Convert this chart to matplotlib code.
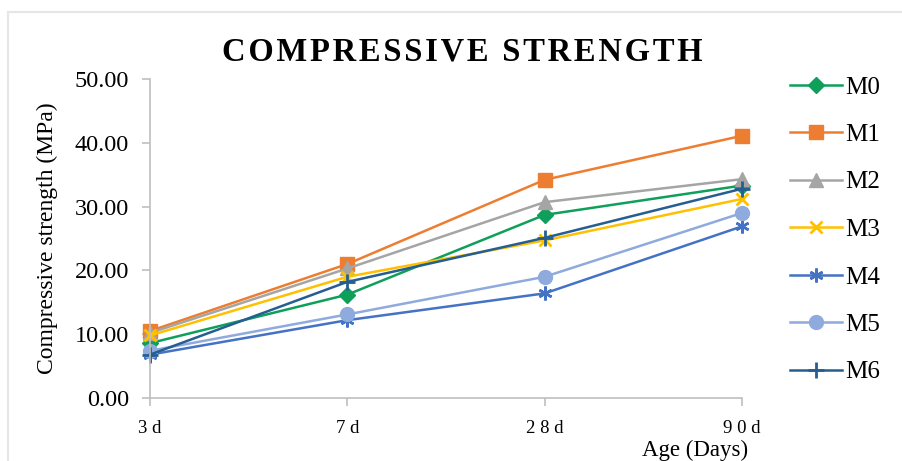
import matplotlib.pyplot as plt
from matplotlib.patches import Rectangle

plt.rcParams['font.family'] = ['Liberation Serif', 'DejaVu Serif']

ages = ["3 d", "7 d", "2 8 d", "9 0 d"]
series_names = ["M0", "M1", "M2", "M3", "M4", "M5", "M6"]

m0 = [8.6, 16.2, 28.7, 33.3]
m1 = [10.5, 21.0, 34.2, 41.1]
m2 = [10.2, 20.3, 30.7, 34.3]
m3 = [9.8, 19.0, 24.7, 31.2]
m4 = [6.8, 12.2, 16.4, 26.9]
m5 = [7.4, 13.1, 19.0, 29.0]
m6 = [6.8, 18.2, 25.1, 32.8]

yticks = [0, 10, 20, 30, 40, 50]

styles = {
    "M0": dict(color="#0E9F5B", marker="D", ms=8),
    "M1": dict(color="#ED7D31", marker="s", ms=10),
    "M2": dict(color="#A5A5A5", marker="^", ms=10),
    "M3": dict(color="#FFC000", marker="x", ms=9, mew=2),
    "M4": dict(color="#4472C4", marker=(6, 2, 0), ms=10, mew=1.8),
    "M5": dict(color="#8FAADC", marker="o", ms=10),
    "M6": dict(color="#255E91", marker="+", ms=11, mew=2),
}

fig = plt.figure(figsize=(9.03, 4.61), dpi=100)
ax = fig.add_axes([150 / 903, 1 - 398 / 461, 592 / 903, 319 / 461])

x = list(range(len(ages)))
for name, vals in zip(series_names, [m0, m1, m2, m3, m4, m5, m6]):
    st = styles[name]
    ax.plot(x, vals, color=st["color"], lw=1.8, marker=st["marker"],
            markersize=st["ms"], markeredgewidth=st.get("mew", 1),
            markerfacecolor=st["color"], markeredgecolor=st["color"],
            label=name, clip_on=False)

ax.set_xlim(0, 3)
ax.set_ylim(0, 50)
ax.set_yticks(yticks)
ax.set_yticklabels([f"{v:.2f}" for v in yticks], fontsize=17.5)
ax.set_xticks(x)
ax.set_xticklabels(ages, fontsize=13.5)

for side in ["top", "right"]:
    ax.spines[side].set_visible(False)
for side in ["left", "bottom"]:
    ax.spines[side].set_color("#BFBFBF")
    ax.spines[side].set_linewidth(1.2)
ax.tick_params(axis="both", color="#BFBFBF", width=1.2, length=6)
ax.tick_params(axis="y", pad=9)
ax.tick_params(axis="x", pad=10)

ax.set_ylabel("Compressive strength (MPa)", fontsize=17, labelpad=12)
fig.text(748 / 903, 1 - 450 / 461, "Age (Days)", fontsize=16.5,
         ha="right", va="center")

title = "\u200a".join("COMPRESSIVE STRENGTH")
fig.text(462 / 903, 1 - 52 / 461, title, fontsize=23.5, fontweight="bold",
         ha="center", va="center")

fig.legend(loc="upper left", bbox_to_anchor=(780 / 903, 1 - 66 / 461),
           frameon=False, fontsize=18, handlelength=2.1, handletextpad=0.1,
           labelspacing=1.0, borderaxespad=0)

fig.patches.append(Rectangle((8 / 903, -0.1), 1.2, 1.1 - 12 / 461,
                             transform=fig.transFigure, fill=False,
                             edgecolor="#E6E6E6", lw=1.5))

fig.savefig("out.png", dpi=100)
